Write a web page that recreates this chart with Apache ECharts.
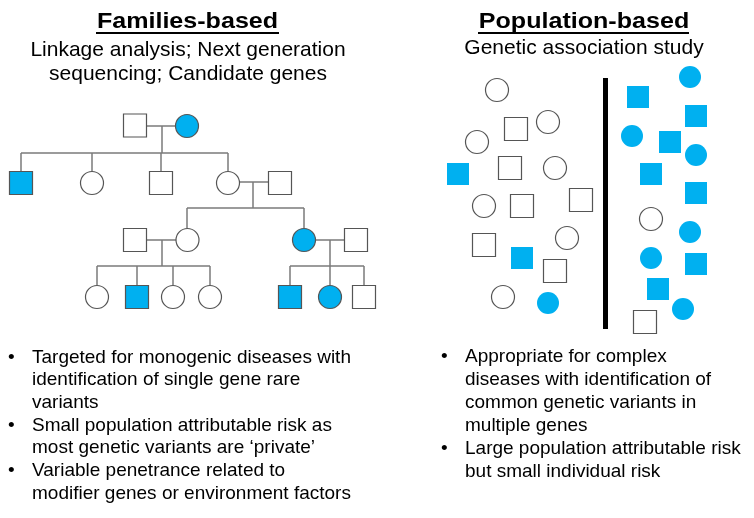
<!DOCTYPE html>
<html><head><meta charset="utf-8">
<script src="https://cdn.jsdelivr.net/npm/echarts@6/dist/echarts.min.js"></script>
<style>html,body{margin:0;padding:0;background:#fff}#c{width:754px;height:518px}</style>
</head><body><div id="c"></div>
<script>
// Pedigree individuals: [x, y, sex (M=square, F=circle), affected]
const pedigreePeople = [
  [135,125.5,'M',0],[187,126,'F',1],
  [21,183,'M',1],[92,183,'F',0],[161,183,'M',0],[228,183,'F',0],[280,183,'M',0],
  [135,240,'M',0],[187.5,240,'F',0],[304,240,'F',1],[356,240,'M',0],
  [97,297,'F',0],[137,297,'M',1],[173,297,'F',0],[210,297,'F',0],[290,297,'M',1],[330,297,'F',1],[364,297,'M',0]
];
// Pedigree connecting lines: [x1, y1, x2, y2]
const pedigreeLinks = [
  [147,126,175,126],[162,126,162,153],[21,153,228,153],
  [21,153,21,172],[92,153,92,172],[161,153,161,172],[228,153,228,172],
  [239,182,268,182],[253,182,253,208],[187,208,304,208],[187,208,187,228],[304,208,304,228],
  [147,240,176,240],[162,240,162,266],[97,266,210,266],
  [97,266,97,285],[137,266,137,285],[173,266,173,285],[210,266,210,285],
  [316,240,344,240],[330,240,330,266],[290,266,364,266],
  [290,266,290,285],[330,266,330,285],[364,266,364,285]
];
// Population individuals: [x, y, sex, affected]
const populationControls = [
  [497,90,'F',0],[516,129,'M',0],[548,122,'F',0],[477,142,'F',0],[458,174,'M',1],
  [510,168,'M',0],[555,168,'F',0],[484,206,'F',0],[522,206,'M',0],[581,200,'M',0],
  [484,245,'M',0],[567,238,'F',0],[522,258,'M',1],[555,271,'M',0],[503,297,'F',0],[548,303,'F',1]
];
const populationCases = [
  [690,77,'F',1],[638,97,'M',1],[696,116,'M',1],[632,136,'F',1],[670,142,'M',1],
  [696,155,'F',1],[651,174,'M',1],[696,193,'M',1],[651,219,'F',0],[690,232,'F',1],
  [651,258,'F',1],[696,264,'M',1],[658,289,'M',1],[683,309,'F',1],[645,322,'M',0]
];
const divider = [[605.5,78],[605.5,329]];

const leftTitle = 'Families-based';
const leftSubtitle = 'Linkage analysis; Next generation\nsequencing; Candidate genes';
const rightTitle = 'Population-based';
const rightSubtitle = 'Genetic association study';
const leftBullets = 'Targeted for monogenic diseases with\nidentification of single gene rare\nvariants\nSmall population attributable risk as\nmost genetic variants are \u2018private\u2019\nVariable penetrance related to\nmodifier genes or environment factors';
const leftBulletMarks = '\u2022\n\n\n\u2022\n\n\u2022\n';
const rightBullets = 'Appropriate for complex\ndiseases with identification of\ncommon genetic variants in\nmultiple genes\nLarge population attributable risk\nbut small individual risk';
const rightBulletMarks = '\u2022\n\n\n\n\u2022\n';

const BLUE = '#00B0F0';
const FONT = '"Liberation Sans", Arial, sans-serif';

function pedItem(p){
  return {value:[p[0],p[1]], symbol: p[2]==='M'?'rect':'circle',
    itemStyle:{color: p[3]?BLUE:'#fff', borderColor:'#555', borderWidth:1.2, opacity:1}};
}
function popItem(p){
  return {value:[p[0],p[1]], symbol: p[2]==='M'?'rect':'circle',
    symbolSize: p[3]?22:23,
    itemStyle: p[3]?{color:BLUE, borderWidth:0, opacity:1}:{color:'#fff', borderColor:'#555', borderWidth:1.2, opacity:1}};
}

const chart = echarts.init(document.getElementById('c'), null, {renderer:'canvas'});
chart.setOption({
  animation:false,
  backgroundColor:'#fff',
  grid:{left:0,right:0,top:0,bottom:0},
  xAxis:{type:'value',min:0,max:754,show:false},
  yAxis:{type:'value',min:0,max:518,inverse:true,show:false},
  series:[
    {type:'lines', coordinateSystem:'cartesian2d', z:1, silent:true,
     lineStyle:{color:'#7a7a7a', width:1.5, opacity:1},
     data: pedigreeLinks.map(l=>({coords:[[l[0],l[1]],[l[2],l[3]]]}))},
    {type:'lines', coordinateSystem:'cartesian2d', z:1, silent:true,
     lineStyle:{color:'#000', width:5, opacity:1},
     data:[{coords:divider}]},
    {type:'scatter', z:3, symbolSize:23, itemStyle:{opacity:1}, data: pedigreePeople.map(pedItem)},
    {type:'scatter', z:3, itemStyle:{opacity:1}, data: populationControls.map(popItem)},
    {type:'scatter', z:3, itemStyle:{opacity:1}, data: populationCases.map(popItem)}
  ],
  graphic:[
    {type:'text', x:187.5, y:22, scaleX:1.14, style:{text:leftTitle, font:'bold 22px '+FONT, fill:'#000', textAlign:'center', textVerticalAlign:'middle'}},
    {type:'rect', shape:{x:96,y:32,width:183,height:2}, style:{fill:'#000'}},
    {type:'text', x:584, y:22, scaleX:1.14, style:{text:rightTitle, font:'bold 22px '+FONT, fill:'#000', textAlign:'center', textVerticalAlign:'middle'}},
    {type:'rect', shape:{x:478,y:32,width:211,height:2}, style:{fill:'#000'}},
    {type:'text', x:188, y:38, style:{text:leftSubtitle, font:'21px '+FONT, fill:'#000', textAlign:'center', textVerticalAlign:'top', lineHeight:24}},
    {type:'text', x:584, y:36, style:{text:rightSubtitle, font:'21px '+FONT, fill:'#000', textAlign:'center', textVerticalAlign:'top', lineHeight:24}},
    {type:'text', x:32, y:346, style:{text:leftBullets, font:'19px '+FONT, fill:'#000', textAlign:'left', textVerticalAlign:'top', lineHeight:22.7}},
    {type:'text', x:8, y:346, style:{text:leftBulletMarks, font:'19px '+FONT, fill:'#000', textAlign:'left', textVerticalAlign:'top', lineHeight:22.7}},
    {type:'text', x:465, y:345, style:{text:rightBullets, font:'19px '+FONT, fill:'#000', textAlign:'left', textVerticalAlign:'top', lineHeight:23}},
    {type:'text', x:441, y:345, style:{text:rightBulletMarks, font:'19px '+FONT, fill:'#000', textAlign:'left', textVerticalAlign:'top', lineHeight:23}}
  ]
});
</script></body></html>
